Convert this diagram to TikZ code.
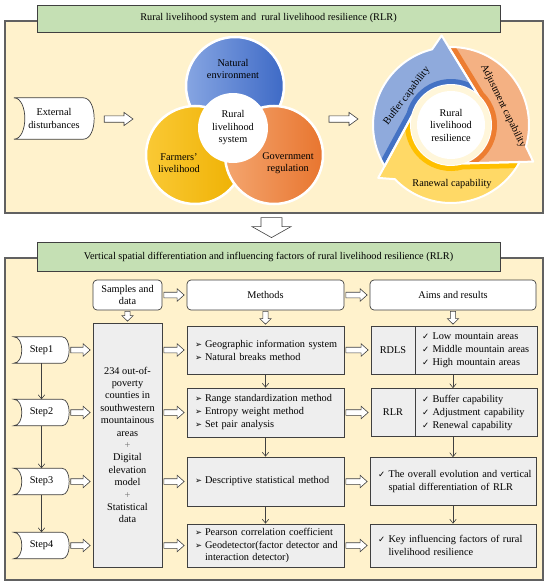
\documentclass[tikz,border=0pt]{standalone}
\usepackage{fontspec}
\setmainfont{Liberation Serif}
\newfontfamily\symf{DejaVu Sans}
\usetikzlibrary{calc,arrows.meta}
\pgfdeclarelayer{back}
\pgfdeclarelayer{mid}
\pgfsetlayers{back,mid,main}
\definecolor{cream}{HTML}{FFF2CC}
\definecolor{tgreen}{HTML}{C5E0B4}
\definecolor{bgray}{HTML}{EEEEEE}
\definecolor{lineC}{HTML}{404040}
\definecolor{blueL}{HTML}{8FAADC}
\definecolor{blueD}{HTML}{4472C4}
\definecolor{oraL}{HTML}{F4B183}
\definecolor{oraD}{HTML}{ED7D31}
\definecolor{yelL}{HTML}{FFD966}
\definecolor{yelD}{HTML}{FFC000}
\definecolor{cbl1}{HTML}{86A5E2}
\definecolor{cbl2}{HTML}{3E6AC6}
\definecolor{cye1}{HTML}{FAC935}
\definecolor{cye2}{HTML}{EEB000}
\definecolor{cor1}{HTML}{F4A66F}
\definecolor{cor2}{HTML}{E8752F}
\definecolor{paleC}{HTML}{FFF6DA}

\newcommand\bul{\makebox[10pt][l]{\symf\fontsize{8.3}{9}\selectfont ➢}}
\newcommand\chk{\makebox[10.5pt][l]{\symf\fontsize{8.5}{9}\selectfont ✓}}
\newcommand\bl[1]{\mbox{\bul #1}}
\newcommand\ck[1]{\mbox{\chk #1}}
\newcommand\hng[2]{\mbox{\hspace*{#1}#2}}

% block arrows: #1 start, #2 tip, #3 shaft half, #4 head half, #5 head length
\newcommand\blkR[5]{\draw[blockarrow] ($(#1)+(0,-#3)$) -- ($(#2)+(-#5,-#3)$) -- ($(#2)+(-#5,-#4)$) -- (#2) -- ($(#2)+(-#5,#4)$) -- ($(#2)+(-#5,#3)$) -- ($(#1)+(0,#3)$) -- cycle;}
\newcommand\blkD[5]{\draw[blockarrow] ($(#1)+(-#3,0)$) -- ($(#2)+(-#3,-#5)$) -- ($(#2)+(-#4,-#5)$) -- (#2) -- ($(#2)+(#4,-#5)$) -- ($(#2)+(#3,-#5)$) -- ($(#1)+(#3,0)$) -- cycle;}
\newcommand\hconn[2]{\path ($(#1)+(1.5,0)$) coordinate (ha) ($(#2)+(-2.5,0)$) coordinate (hb); \blkR{ha}{hb}{2.8}{6.2}{7}}
\newcommand\vconn[2]{\path ($(#1)+(0,1)$) coordinate (va) ($(#2)+(0,-1.5)$) coordinate (vb); \blkD{va}{vb}{2.6}{5.6}{5.5}}
% tape-like shape around node #1, #2 right inset, #3 left bulge control
\newcommand\tapeshape[3]{\draw[shapeln] (#1.north west) -- ($(#1.north east)+(-#2,0)$) .. controls ($(#1.north east)+({0.33*#2},0)$) and ($(#1.south east)+({0.33*#2},0)$) .. ($(#1.south east)+(-#2,0)$) -- (#1.south west) .. controls ($(#1.south west)+(#3,0)$) and ($(#1.north west)+(#3,0)$) .. (#1.north west) -- cycle;}

\begin{document}
\begin{tikzpicture}[x=1pt,y=-1pt,
  font=\fontsize{10.3}{12.5}\selectfont,
  panel/.style={draw=black!62, line width=1.3pt, fill=cream, inner sep=0},
  titlebox/.style={draw=lineC, line width=0.8pt, fill=tgreen, inner sep=0},
  hdr/.style={draw=lineC, line width=0.7pt, fill=white, rounded corners=4pt, inner sep=0, align=center},
  gbox/.style={draw=lineC, line width=0.7pt, fill=bgray, inner sep=0, align=center},
  lbox/.style={draw=lineC, line width=0.7pt, fill=bgray, inner ysep=0, inner xsep=8pt, align=left, font=\fontsize{10.3}{13}\selectfont},
  blockarrow/.style={draw=lineC, line width=0.6pt, fill=white},
  thinarr/.style={draw=lineC, line width=0.6pt, -{Straight Barb[length=4pt,width=6.5pt]}},
  shapeln/.style={draw=lineC, line width=0.7pt, fill=white},
  stepn/.style={minimum width=55, minimum height=26, inner sep=0, align=center},
  lab/.style={align=center, inner sep=0},
]
\useasboundingbox (0,0) rectangle (550,586);
\begin{pgfonlayer}{back}
\fill[white] (0,0) rectangle (550,586);
\node[panel, minimum width=538, minimum height=192] (p1) at (274,117) {};
\node[panel, minimum width=538, minimum height=322] (p2) at (274,419) {};
\end{pgfonlayer}

% titles
\node[titlebox, minimum width=463, minimum height=27] (t1) at (268.5,18.5) {Rural livelihood system and\ \ rural livelihood resilience (RLR)};
\node[titlebox, minimum width=463, minimum height=29] (t2) at (268.5,256.5) {Vertical spatial differentiation and influencing factors of rural livelihood resilience (RLR)};

% big down arrow
\path ($(p1.south)+(-2.5,4)$) coordinate (dA);
\path (dA |- t2.north) ++(0,-4) coordinate (dB);
\blkD{dA}{dB}{10.5}{19.5}{11}

% ---- top section ----
\node[stepn, minimum width=80, minimum height=41] (ext) at (54,118.5) {External\\disturbances};
\begin{pgfonlayer}{mid}\tapeshape{ext}{11}{14.7}\end{pgfonlayer}
\path ($(ext.east)+(10,0.5)$) coordinate (e1a);
\coordinate (e1b) at (133,119);
\blkR{e1a}{e1b}{3.2}{6.6}{9}

\shadedraw[left color=cbl1, right color=cbl2, draw=white, line width=2.5pt] (235,86) circle (49);
\shadedraw[left color=cye1, right color=cye2, draw=white, line width=2.5pt] (195,155) circle (49);
\shadedraw[left color=cor1, right color=cor2, draw=white, line width=2.5pt] (274,155) circle (49);
\fill[white] (233,128) circle (35);
\node[lab] (ne) at (233,69) {Natural\\environment};
\node[lab] (fl) at (179,163) {Farmers'\\livelihood};
\node[lab] (gr) at (288,163) {Government\\regulation};
\node[lab] (rls) at (233,128) {Rural\\livelihood\\system};

\coordinate (e2a) at (329,119);
\coordinate (e2b) at (358,119);
\blkR{e2a}{e2b}{3.2}{6.6}{9}

% resilience ring
\coordinate (C) at (451,125);
\foreach \ph/\lc/\dc in {264/blueL/blueD, 24/oraL/oraD, 144/yelL/yelD} {
  \begin{scope}
    \clip ($(C)+({\ph-115.7}:78)$) arc[start angle=\ph-115.7, end angle=\ph-8, radius=78] -- ($(C)+(\ph:90)$) -- ($(C)+({\ph+50}:40)$) arc[start angle=\ph+50, end angle=\ph-70, radius=40] -- cycle;
    \fill[\lc] (C) circle (95);
    \draw[\dc, line width=12pt] ($(C)+({\ph+50}:40)$) arc[start angle=\ph+50, end angle=\ph-70, radius=40] -- ($(C)+({\ph-115.7}:78)$);
  \end{scope}
}
\foreach \ph in {264,24,144} {
  \draw[white, line width=2pt, line join=round] ($(C)+({\ph-115.7}:78)$) arc[start angle=\ph-115.7, end angle=\ph-8, radius=78] -- ($(C)+(\ph:90)$) -- ($(C)+({\ph+50}:40)$) arc[start angle=\ph+50, end angle=\ph-70, radius=40] -- cycle;
}
\fill[paleC] (C) circle (40);
\fill[white] (C) circle (34);
\node[lab] (rlr) at (C) {Rural\\livelihood\\resilience};
\node[lab, rotate=53] (buf) at (407,96) {Buffer capability};
\node[lab, rotate=-64] (adj) at (503,106) {Adjustment capability};
\node[lab] (ren) at (452,184) {Ranewal capability};

% ---- bottom section ----
\node[hdr, minimum width=69, minimum height=30] (sd) at (127.5,295) {Samples and\\data};
\node[hdr, minimum width=157, minimum height=30] (meth) at (265.5,295) {Methods};
\node[hdr, minimum width=166, minimum height=30] (aims) at (453,295) {Aims and results};
\node[gbox, minimum width=69, minimum height=244, font=\fontsize{10.3}{12.4}\selectfont] (big) at (127.5,445) {234 out-of-\\poverty\\counties in\\southwestern\\mountainous\\areas\\{\color{black!55}+}\\Digital\\elevation\\model\\{\color{black!55}+}\\Statistical\\data};

\node[lbox, minimum width=157, text width=141, minimum height=48] (m1) at (265.5,350) {\bl{Geographic information system}\\\bl{Natural breaks method}};
\node[lbox, minimum width=157, text width=141, minimum height=49] (m2) at (265.5,412.5) {\bl{Range standardization method}\\\bl{Entropy weight method}\\\bl{Set pair analysis}};
\node[lbox, minimum width=157, text width=141, minimum height=49] (m3) at (265.5,481.5) {\bl{Descriptive statistical method}};
\node[lbox, minimum width=157, text width=141, minimum height=43, font=\fontsize{10.3}{12.5}\selectfont] (m4) at (265.5,545.5) {\bl{Pearson correlation coefficient}\\\bl{Geodetector(factor detector and}\\\hng{10pt}{interaction detector)}};

\node[gbox, minimum width=44, minimum height=48] (r1a) at (393,350) {RDLS};
\node[lbox, minimum width=122, text width=108, inner xsep=7pt, minimum height=48] (r1b) at (476,350) {\ck{Low mountain areas}\\\ck{Middle mountain areas}\\\ck{High mountain areas}};
\node[gbox, minimum width=44, minimum height=48] (r2a) at (393,412.5) {RLR};
\node[lbox, minimum width=122, text width=108, inner xsep=7pt, minimum height=48] (r2b) at (476,412.5) {\ck{Buffer capability}\\\ck{Adjustment capability}\\\ck{Renewal capability}};
\node[lbox, minimum width=166, text width=150, minimum height=48] (r3) at (453,481.5) {\ck{The overall evolution and vertical}\\\hng{10.5pt}{spatial differentiation of RLR}};
\node[lbox, minimum width=166, text width=150, minimum height=43] (r4) at (453,545.5) {\ck{Key influencing factors of rural}\\\hng{10.5pt}{livelihood resilience}};

\node[stepn] (s1) at (41.5,350) {Step1};
\node[stepn] (s2) at (41.5,412.5) {Step2};
\node[stepn] (s3) at (41.5,481.5) {Step3};
\node[stepn] (s4) at (41.5,545.5) {Step4};
\begin{pgfonlayer}{mid}
\tapeshape{s1}{7}{10.7}
\tapeshape{s2}{7}{10.7}
\tapeshape{s3}{7}{10.7}
\tapeshape{s4}{7}{10.7}
\end{pgfonlayer}

% header arrows
\hconn{sd.east}{meth.west}
\hconn{meth.east}{aims.west}
\vconn{sd.south}{big.north}
\vconn{meth.south}{m1.north}
\vconn{aims.south}{aims.south |- r1b.north}

% row arrows
\hconn{s1.east}{big.west |- s1.east}
\hconn{s2.east}{big.west |- s2.east}
\hconn{s3.east}{big.west |- s3.east}
\hconn{s4.east}{big.west |- s4.east}
\hconn{big.east |- m1.west}{m1.west}
\hconn{big.east |- m2.west}{m2.west}
\hconn{big.east |- m3.west}{m3.west}
\hconn{big.east |- m4.west}{m4.west}
\hconn{m1.east}{r1a.west}
\hconn{m2.east}{r2a.west}
\hconn{m3.east}{r3.west}
\hconn{m4.east}{r4.west}

% thin arrows
\draw[thinarr] (s1) -- (s2);
\draw[thinarr] (s2) -- (s3);
\draw[thinarr] (s3) -- (s4);
\draw[thinarr] (m1) -- (m2);
\draw[thinarr] (m2) -- (m3);
\draw[thinarr] (m3) -- (m4);
\draw[thinarr] (r1b.south -| r3.north) -- (r2b.north -| r3.north);
\draw[thinarr] (r2b.south -| r3.north) -- (r3.north);
\draw[thinarr] (r3) -- (r4);
\end{tikzpicture}
\end{document}
